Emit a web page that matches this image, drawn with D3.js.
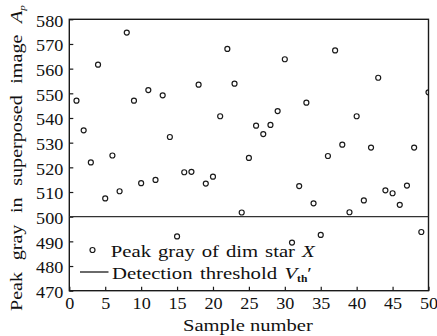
<!DOCTYPE html>
<html><head><meta charset="utf-8">
<script src="https://cdn.jsdelivr.net/npm/d3@7"></script>
<style>
body{margin:0;background:#fff}
svg text{font-family:'Liberation Serif','Times New Roman',Times,'DejaVu Serif',serif;fill:#111}
</style>
</head><body>
<svg id="c" width="437" height="336" font-family="'Liberation Serif', 'Times New Roman', Times, 'DejaVu Serif', serif"></svg>
<script>
const sampleNumber = [1,2,3,4,5,6,7,8,9,10,11,12,13,14,15,16,17,18,19,20,21,22,23,24,25,26,27,28,29,30,31,32,33,34,35,36,37,38,39,40,41,42,43,44,45,46,47,48,49,50];
const peakGray = [547,535,522,561.6,507.4,524.8,510.3,574.6,547,513.6,551.3,514.9,549.2,532.3,492,518,518.2,553.5,513.4,516.2,540.7,568,553.9,501.7,523.8,536.9,533.5,537.2,542.8,563.8,489.5,512.4,546.2,505.4,492.6,524.6,567.4,529.2,501.8,540.7,506.6,528,556.3,510.7,509.5,504.8,512.6,528,493.8,550.4];
const threshold = 500;
const xTicks = [0,5,10,15,20,25,30,35,40,45,50];
const yTicks = [470,480,490,500,510,520,530,540,550,560,570,580];
const xDomain = [0,50];
const yDomain = [470,580];

const FONT = "'Liberation Serif', 'Times New Roman', Times, 'DejaVu Serif', serif";
const svg = d3.select("#c");
svg.append("rect").attr("width",437).attr("height",336).attr("fill","#fff");

const L = 69.3, R = 428.5, T = 19.3, B = 290.7;
const x = d3.scaleLinear().domain(xDomain).range([L,R]);
const y = d3.scaleLinear().domain(yDomain).range([B,T]);
const SX = 1.1, FS = 16.5, INK = "#1a1a1a";

svg.append("defs").append("clipPath").attr("id","plot")
  .append("rect").attr("x",L).attr("y",T).attr("width",R-L).attr("height",B-T);

svg.append("rect").attr("x",L).attr("y",T).attr("width",R-L).attr("height",B-T)
  .attr("fill","none").attr("stroke",INK).attr("stroke-width",1.4);

const gx = svg.append("g").attr("transform",`translate(0,${B})`)
  .call(d3.axisBottom(x).tickValues(xTicks).tickSize(-4).tickSizeOuter(0).tickFormat(d3.format("d")));
gx.attr("font-family",FONT).attr("font-size",FS);
gx.select(".domain").remove();
gx.selectAll(".tick line").attr("stroke",INK).attr("stroke-width",1.2);
gx.selectAll(".tick text").attr("y",18.5).attr("dy",null).attr("fill",INK)
  .attr("transform",`scale(${SX},1)`);

const gy = svg.append("g").attr("transform",`translate(${L},0)`)
  .call(d3.axisLeft(y).tickValues(yTicks).tickSize(-4).tickSizeOuter(0).tickFormat(d3.format("d")));
gy.attr("font-family",FONT).attr("font-size",FS);
gy.select(".domain").remove();
gy.selectAll(".tick line").attr("stroke",INK).attr("stroke-width",1.2);
gy.selectAll(".tick text").attr("x",-6/SX).attr("dy",null).attr("y",6.8).attr("fill",INK)
  .attr("transform",`scale(${SX},1)`);

svg.append("line").attr("x1",x(xDomain[0])).attr("x2",x(xDomain[1]))
  .attr("y1",y(threshold)).attr("y2",y(threshold))
  .attr("stroke","#333").attr("stroke-width",1.2);

svg.append("g").attr("clip-path","url(#plot)")
  .selectAll("circle").data(sampleNumber).join("circle")
  .attr("cx",(d)=>x(d)).attr("cy",(d,i)=>y(peakGray[i])).attr("r",2.5)
  .attr("fill","none").attr("stroke",INK).attr("stroke-width",1.2);

function placeFit(g, t, tx, ty, rot, target, maxS){
  const n = t.node();
  const nat = n.getComputedTextLength();
  const spaces = (n.textContent.match(/ /g)||[]).length;
  const s = Math.min(target/nat, maxS);
  const ws = spaces>0 ? Math.max(0,(target/s - nat)/spaces) : 0;
  t.style("word-spacing", ws+"px");
  g.attr("transform",`translate(${tx},${ty}) rotate(${rot}) scale(${s},1)`);
}

svg.append("circle").attr("cx",92.5).attr("cy",250).attr("r",2.5)
  .attr("fill","none").attr("stroke",INK).attr("stroke-width",1.2);
svg.append("line").attr("x1",80).attr("x2",108.5).attr("y1",272).attr("y2",272)
  .attr("stroke",INK).attr("stroke-width",1.3);

const LFS = 17;
const g1 = svg.append("g");
const t1 = g1.append("text").attr("font-family",FONT).attr("font-size",LFS).attr("fill",INK);
t1.append("tspan").text("Peak gray of dim star ");
t1.append("tspan").attr("font-style","italic").text("X");
placeFit(g1, t1, 110.7, 256.5, 0, 204, 1.22);

const g2 = svg.append("g");
const t2 = g2.append("text").attr("font-family",FONT).attr("font-size",LFS).attr("fill",INK);
t2.append("tspan").text("Detection threshold ");
t2.append("tspan").attr("font-style","italic").text("V");
t2.append("tspan").attr("font-size",9.5).attr("font-weight","bold").attr("dy",3).text("th");
t2.append("tspan").attr("dy",-3).text("′");
placeFit(g2, t2, 112, 278.5, 0, 200, 1.22);

const gxt = svg.append("g");
const xt = gxt.append("text").attr("font-family",FONT).attr("font-size",17).attr("fill",INK).text("Sample number");
placeFit(gxt, xt, 183, 331, 0, 130, 1.22);

const gyt = svg.append("g");
const yt = gyt.append("text").attr("font-family",FONT).attr("font-size",FS).attr("fill",INK);
yt.append("tspan").text("Peak gray in superposed image ");
yt.append("tspan").attr("font-style","italic").text("A");
yt.append("tspan").attr("font-style","italic").attr("font-size",9).attr("dy",3).text("p");
placeFit(gyt, yt, 21.8, 311, -90, 306, 1.22);
</script>
</body></html>
